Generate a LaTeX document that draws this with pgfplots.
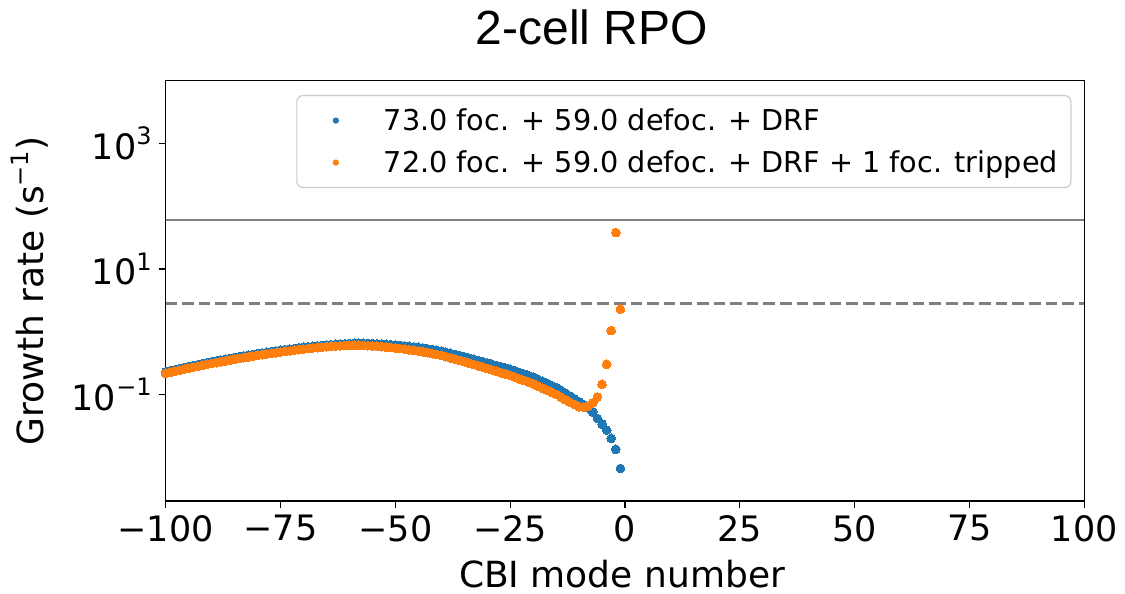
\documentclass[border=0pt]{standalone}
\usepackage{pgfplots}
\pgfplotsset{compat=1.18}
\usepackage{fontspec}
\setmainfont{DejaVu Sans}
\newfontfamily\titlefont{Liberation Sans}
\definecolor{mplblue}{RGB}{31,119,180}
\definecolor{mplorange}{RGB}{255,127,14}
\definecolor{legframe}{RGB}{204,204,204}
\newcommand{\sups}[1]{\raisebox{0.42em}{\fontsize{12}{12}\selectfont #1}}
\begin{document}
\begin{tikzpicture}
\begin{axis}[
  at={(0,0)}, anchor=south west,
  scale only axis, width=459.3pt, height=210.15pt,
  xmin=-100, xmax=100, ymode=log, ymin=0.002, ymax=1e4,
  xtick={-100,-75,-50,-25,0,25,50,75,100},
  xticklabels={−100,−75,−50,−25,0,25,50,75,100},
  ytick={0.1,10,1000},
  yticklabels={10\sups{−1},10\sups{1},10\sups{3}},
  yminorticks=false,
  tick align=outside, xtick pos=bottom, ytick pos=left,
  major tick length=3.5pt,
  axis line style={line width=0.6pt},
  every tick/.style={black, line width=0.6pt},
  tick label style={font=\fontsize{17.5}{21}\selectfont},
  legend style={at={(1,1)}, anchor=north east, xshift=-6.4pt, yshift=-7.15pt,
    draw=legframe, rounded corners=3pt, line width=0.6pt, fill=white,
    inner xsep=6.5pt, inner ysep=5.7pt, column sep=22pt, row sep=7.4pt,
    font=\fontsize{14.35}{17}\selectfont,
    nodes={inner sep=0pt, text height=12pt, text depth=1.6pt}},
  legend cell align=left,
]
\addplot[only marks, mark=*, mark size=2.2pt, color=mplblue,
  mark options={fill=mplblue, draw=mplblue, line width=0pt},
  legend image code/.code={\path[draw=none,fill=none] (1.5pt,-1pt) rectangle (16.5pt,1pt);
    \fill[mplblue] (14.5pt,0pt) circle (1.25pt);}]
 table {
-100 0.2291
-99 0.2379
-98 0.2471
-97 0.2566
-96 0.2664
-95 0.2767
-94 0.2868
-93 0.2973
-92 0.3081
-91 0.3194
-90 0.3311
-89 0.3415
-88 0.3522
-87 0.3632
-86 0.3746
-85 0.3864
-84 0.3977
-83 0.4095
-82 0.4215
-81 0.4339
-80 0.4467
-79 0.4577
-78 0.4691
-77 0.4806
-76 0.4925
-75 0.5047
-74 0.5157
-73 0.5270
-72 0.5385
-71 0.5503
-70 0.5623
-69 0.5722
-68 0.5823
-67 0.5926
-66 0.6031
-65 0.6138
-64 0.6206
-63 0.6275
-62 0.6345
-61 0.6415
-60 0.6486
-59 0.6514
-58 0.6524
-57 0.6519
-56 0.6499
-55 0.6457
-54 0.6405
-53 0.6342
-52 0.6274
-51 0.6209
-50 0.6138
-49 0.6031
-48 0.5926
-47 0.5823
-46 0.5722
-45 0.5623
-44 0.5470
-43 0.5321
-42 0.5176
-41 0.5035
-40 0.4898
-39 0.4699
-38 0.4508
-37 0.4325
-36 0.4150
-35 0.3981
-34 0.3802
-33 0.3631
-32 0.3467
-31 0.3311
-30 0.3162
-29 0.3020
-28 0.2884
-27 0.2754
-26 0.2630
-25 0.2512
-24 0.2371
-23 0.2239
-22 0.2113
-21 0.1995
-20 0.1884
-19 0.1746
-18 0.1618
-17 0.1500
-16 0.1390
-15 0.1288
-14 0.1161
-13 0.1047
-12 0.0944
-11 0.0851
-10 0.0767
-9 0.0684
-8 0.0610
-7 0.0525
-6 0.0414
-5 0.0337
-4 0.0270
-3 0.0199
-2 0.0133
-1 0.0066
};
\addlegendentry{73.0 foc. + 59.0 defoc. + DRF}
\addplot[only marks, mark=*, mark size=2.2pt, color=mplorange,
  mark options={fill=mplorange, draw=mplorange, line width=0pt},
  legend image code/.code={\path[draw=none,fill=none] (1.5pt,-1pt) rectangle (16.5pt,1pt);
    \fill[mplorange] (14.5pt,0pt) circle (1.25pt);}]
 table {
-100 0.2163
-99 0.2246
-98 0.2333
-97 0.2422
-96 0.2515
-95 0.2612
-94 0.2707
-93 0.2807
-92 0.2908
-91 0.3015
-90 0.3112
-89 0.3210
-88 0.3311
-87 0.3414
-86 0.3521
-85 0.3632
-84 0.3738
-83 0.3849
-82 0.3962
-81 0.4079
-80 0.4199
-79 0.4302
-78 0.4410
-77 0.4518
-76 0.4630
-75 0.4744
-74 0.4848
-73 0.4954
-72 0.5062
-71 0.5173
-70 0.5286
-69 0.5379
-68 0.5474
-67 0.5570
-66 0.5669
-65 0.5770
-64 0.5834
-63 0.5899
-62 0.5964
-61 0.6030
-60 0.6051
-59 0.6052
-58 0.6048
-57 0.6017
-56 0.5979
-55 0.5915
-54 0.5841
-53 0.5759
-52 0.5672
-51 0.5588
-50 0.5494
-49 0.5374
-48 0.5256
-47 0.5142
-46 0.5030
-45 0.4920
-44 0.4764
-43 0.4613
-42 0.4467
-41 0.4325
-40 0.4188
-39 0.3999
-38 0.3818
-37 0.3646
-36 0.3482
-35 0.3328
-34 0.3163
-33 0.3006
-32 0.2857
-31 0.2718
-30 0.2583
-29 0.2455
-28 0.2333
-27 0.2220
-26 0.2109
-25 0.2005
-24 0.1883
-23 0.1771
-22 0.1663
-21 0.1564
-20 0.1470
-19 0.1358
-18 0.1256
-17 0.1164
-16 0.1079
-15 0.0999
-14 0.0906
-13 0.0824
-12 0.0753
-11 0.0692
-10 0.0638
-9 0.0624
-8 0.0653
-7 0.0733
-6 0.0912
-5 0.1445
-4 0.302
-3 1.04
-2 38.0
-1 2.28
};
\addlegendentry{72.0 foc. + 59.0 defoc. + DRF + 1 foc. tripped}
\addplot[gray, line width=1.4pt, forget plot] coordinates {(-100,60) (100,60)};
\addplot[gray, line width=1.4pt, dash pattern=on 5.8pt off 2.5pt, forget plot] coordinates {(-100,2.84) (100,2.84)};
\end{axis}
\node[anchor=base, font=\titlefont\fontsize{24}{28}\selectfont] at (213.15pt,228pt) {2-cell RPO};
\node[anchor=base, font=\fontsize{18}{21}\selectfont] at (228.15pt,-43.5pt) {CBI mode number};
\node[anchor=base, rotate=90, font=\fontsize{18}{21}\selectfont] at (-60.85pt,105pt) {Growth rate (s\sups{−1})};
\pgfresetboundingbox
\path[use as bounding box] (-82.85pt,-46.5pt) rectangle (479.65pt,250.5pt);
\end{tikzpicture}
\end{document}
